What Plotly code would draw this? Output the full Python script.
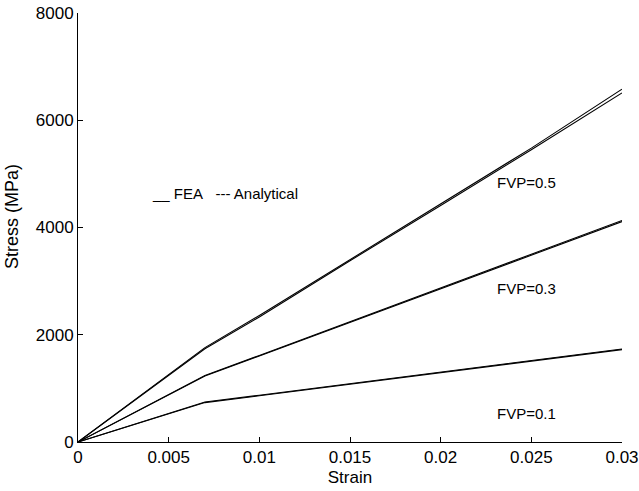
import plotly.graph_objects as go

strain = [0, 0.007, 0.01, 0.015, 0.02, 0.025, 0.03]

fea_05 = [0, 1760, 2360, 3400, 4440, 5480, 6580]
ana_05 = [0, 1740, 2330, 3380, 4410, 5450, 6510]
fea_03 = [0, 1240, 1615, 2245, 2870, 3500, 4130]
ana_03 = [0, 1230, 1605, 2230, 2855, 3485, 4110]
fea_01 = [0, 745, 872, 1088, 1302, 1520, 1735]
ana_01 = [0, 735, 862, 1078, 1292, 1508, 1722]

labels = ["FVP=0.5", "FVP=0.3", "FVP=0.1"]
label_y = [4840, 2860, 530]

x_ticks = [0, 0.005, 0.01, 0.015, 0.02, 0.025, 0.03]
x_ticktext = ["0", "0.005", "0.01", "0.015", "0.02", "0.025", "0.03"]
y_ticks = [0, 2000, 4000, 6000, 8000]

font = "Liberation Sans, Arial, Helvetica, sans-serif"

fig = go.Figure()
for ys in [fea_05, ana_05, fea_03, ana_03, fea_01, ana_01]:
    fig.add_trace(go.Scatter(x=strain, y=ys, mode="lines",
                             line=dict(color="black", width=1.1),
                             showlegend=False))

for t, yv in zip(labels, label_y):
    fig.add_annotation(x=0.0230, y=yv, text=t, showarrow=False,
                       xanchor="left", yanchor="middle",
                       font=dict(family=font, size=15, color="black"))

fig.add_annotation(x=0.0081, y=4630, text="__ FEA&nbsp;&nbsp; --- Analytical", showarrow=False,
                   xanchor="center", yanchor="middle",
                   font=dict(family=font, size=15, color="black"))

fig.add_annotation(xref="paper", yref="paper", x=-0.1213, y=0.5245,
                   text="Stress (MPa)", textangle=-90, showarrow=False,
                   xanchor="center", yanchor="middle",
                   font=dict(family=font, size=18, color="black"))

fig.update_layout(
    width=639, height=491,
    margin=dict(l=78, r=17, t=13, b=49),
    plot_bgcolor="white", paper_bgcolor="white",
    font=dict(family=font, size=17, color="black"),
    xaxis=dict(range=[0, 0.03], tickvals=x_ticks, ticktext=x_ticktext,
               showgrid=False, zeroline=False, showline=True, linecolor="black",
               linewidth=1, ticks="inside", ticklen=5, tickcolor="black",
               automargin=False,
               title=dict(text="Strain", font=dict(size=17), standoff=4),
               tickfont=dict(size=17)),
    yaxis=dict(range=[0, 8000], tickvals=y_ticks,
               showgrid=False, zeroline=False, showline=True, linecolor="black",
               linewidth=1, ticks="inside", ticklen=5, tickcolor="black",
               automargin=False,
               tickfont=dict(size=17)),
)

fig.write_html("out.html")
